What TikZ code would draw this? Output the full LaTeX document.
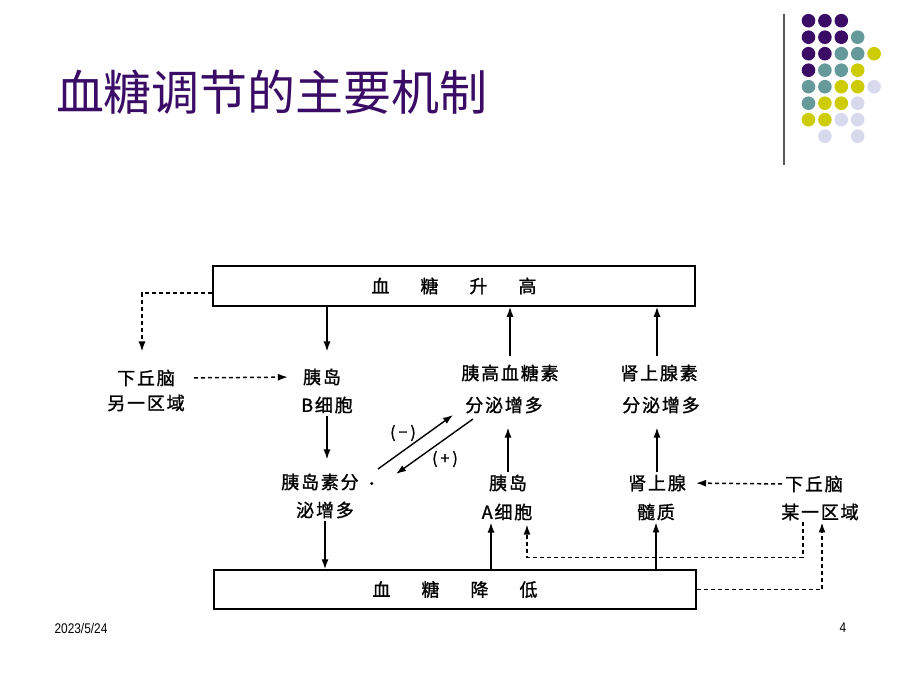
\documentclass[tikz,border=0pt]{standalone}
\usepackage{fontspec}
\usepackage{graphicx}
\setmainfont{Liberation Sans}
\newfontfamily\cjk{Noto Sans CJK SC}
\newfontfamily\cjkls[LetterSpace=10,FakeBold=1.2]{Noto Sans CJK SC}
\usetikzlibrary{arrows.meta,calc}
\definecolor{titlepurple}{RGB}{58,12,102}
\definecolor{dP}{RGB}{58,12,102}
\definecolor{dT}{RGB}{102,153,153}
\definecolor{dY}{RGB}{204,204,0}
\definecolor{dL}{RGB}{217,217,238}
\tikzset{
  lbl/.style={font=\cjkls\fontsize{18}{18}\selectfont, inner xsep=0pt, inner ysep=2pt},
  sml/.style={font=\cjkls\fontsize{16}{16}\selectfont, inner sep=0pt},
  bigbox/.style={draw, line width=1.5pt, minimum width=482pt, minimum height=40pt, inner sep=0pt, font=\cjkls\fontsize{18}{18}\selectfont},
  tipA/.tip={Latex[length=10pt,width=7pt]},
  arr/.style={line width=1.4pt, -tipA},
  darr/.style={line width=1.5pt, dash pattern=on 4pt off 3pt, -tipA},
  foot/.style={font=\fontsize{14}{14}\selectfont, inner sep=0pt},
}
\begin{document}
\begin{tikzpicture}[x=1pt,y=-1pt]
\useasboundingbox (0,0) rectangle (900,675);
\fill[white] (0,0) rectangle (900,675);

% title
\node[font=\cjk\fontsize{48}{48}\selectfont, text=titlepurple, inner sep=0pt] (title) at (272,92) {血糖调节的主要机制};

% decoration
\draw[line width=1.5pt, black!65] (784,14) -- (784,165);
\foreach \c/\r/\col in {0/0/dP,1/0/dP,2/0/dP,
  0/1/dP,1/1/dP,2/1/dP,3/1/dT,
  0/2/dP,1/2/dP,2/2/dT,3/2/dT,4/2/dY,
  0/3/dP,1/3/dT,2/3/dT,3/3/dY,
  0/4/dT,1/4/dT,2/4/dY,3/4/dY,4/4/dL,
  0/5/dT,1/5/dY,2/5/dY,3/5/dL,
  0/6/dY,1/6/dY,2/6/dL,3/6/dL,
  1/7/dL,3/7/dL}
  \fill[\col] (808.5+16.4*\c, 20.7+16.5*\r) circle[radius=6.8];

% boxes
\node[bigbox] (top) at (454,286) {\raisebox{-4pt}{血\hspace{31pt}糖\hspace{31pt}升\hspace{31pt}高}\hspace{16pt}};
\node[bigbox, minimum height=39pt] (bot) at (455,589.5) {\raisebox{-1pt}{血\hspace{31pt}糖\hspace{31pt}降\hspace{31pt}低}\hspace{18pt}};

% labels
\node[lbl] (hyA1) at (146,378) {下丘脑};
\node[lbl] (hyA2) at (146,403) {另一区域};
\node[lbl] (bB1) at (322,377) {胰岛};
\node[lbl] (bB2) at (327,405) {B细胞};
\node[lbl] (ins1) at (330,482) {胰岛素分\hspace{6pt}{\fontsize{14}{14}\selectfont ·}};
\node[lbl] (ins2) at (325,510) {泌增多};
\node[lbl] (gl1) at (510,373) {胰高血糖素};
\node[lbl] (gl2) at (504,405) {分泌增多};
\node[lbl] (ep1) at (659,373) {肾上腺素};
\node[lbl] (ep2) at (661,405) {分泌增多};
\node[lbl] (aA1) at (508,483) {胰岛};
\node[lbl] (aA2) at (507,512) {A细胞};
\node[lbl] (ad1) at (657,483) {肾上腺};
\node[lbl] (ad2) at (656,512) {髓质};
\node[lbl] (hyB1) at (814,484) {下丘脑};
\node[lbl] (hyB2) at (820,512) {某一区域};
\node[sml] (minus) at (403,433) {(\hspace{3pt}−\hspace{3pt})};
\node[sml] (plus) at (445,459) {(\hspace{3pt}+\hspace{3pt})};

% solid arrows
\draw[arr, shorten >=15pt] (top.south -| bB2) -- (bB2 |- bB1.north);
\draw[arr, shorten >=12pt] (bB2.south) -- (ins1.north -| bB2);
\draw[arr] (ins2.south) -- (bot.north -| ins2);
\draw[arr] ([shift={(48,-13)}]ins1.center) -- ([shift={(-51,10)}]gl2.center);
\draw[arr] ([shift={(-31,14)}]gl2.center) -- ([shift={(66,-8)}]ins1.center);
\draw[arr, shorten >=12pt] (aA1.north) -- (aA1 |- gl2.south);
\draw[arr, shorten <=6pt] (gl1.north) -- (top.south -| gl1);
\draw[arr, shorten <=6pt] (ep1.north -| ad1) -- (top.south -| ad1);
\draw[arr, shorten >=12pt] (ad1.north) -- (ad1 |- ep2.south);
\draw[arr] ($(bot.north -| aA2)+(-16,0)$) -- ([xshift=-16pt]aA2.south);
\draw[arr] (bot.north -| ad2) -- (ad2.south);

% dashed arrows
\draw[darr, shorten >=16pt] ([yshift=-7pt]top.west) -| ([xshift=-4pt]hyA1.north);
\draw[darr, shorten <=19pt, shorten >=15pt] (hyA1.east) -- (bB1.west);
\draw[darr, shorten <=3pt, shorten >=10pt] (hyB1.west) -- (ad1.east);
\draw[darr, shorten >=2pt] ([xshift=-17pt]hyB2.south) -- ++(0,35) -| ([xshift=20pt]aA2.south);
\draw[darr] (bot.east) -| ([xshift=2pt]hyB2.south);

% footer
\node[foot] (date) at (81,628) {\scalebox{0.85}[1]{2023/5/24}};
\node[foot] (pg) at (843,628) {\scalebox{0.85}[1]{4}};
\end{tikzpicture}
\end{document}
